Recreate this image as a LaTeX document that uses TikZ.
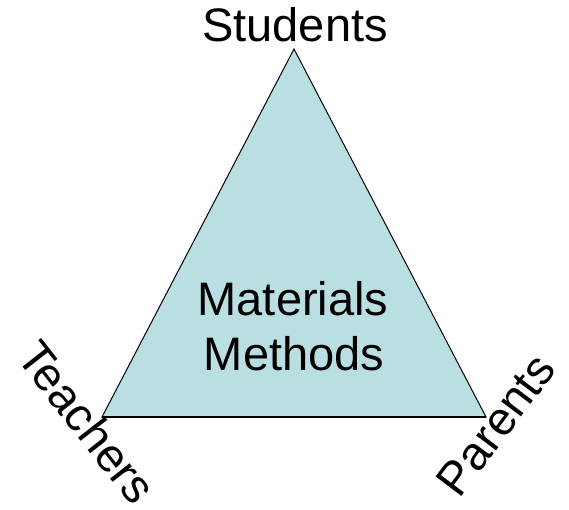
\documentclass[tikz,border=0pt]{standalone}
\usepackage{fontspec}
\setmainfont{Liberation Sans}
\definecolor{trifill}{RGB}{185,223,227}
\begin{document}
\begin{tikzpicture}[x=1pt,y=-1pt,
  lbl/.style={inner sep=0pt,font=\fontsize{47}{56}\selectfont}]
\useasboundingbox (0,0) rectangle (569,510);
\coordinate (top) at (294,49);
\coordinate (bl) at (102,417);
\coordinate (br) at (486,417);
\filldraw[fill=trifill,draw=black,line width=1pt,line join=miter] (top) -- (br) -- (bl) -- cycle;
\draw[line width=1.6pt] (bl) -- (br);
\node[lbl,anchor=base] (stu) at (295,42) {Students};
\node[lbl,anchor=base] (mat) at (293,315) {Materials};
\node[lbl,anchor=base] (met) at (294,370) {Methods};
\node[lbl,rotate=-52] (tea) at (87,422) {Teachers};
\node[lbl,rotate=53] (par) at (496,425) {Parents};
\end{tikzpicture}
\end{document}
